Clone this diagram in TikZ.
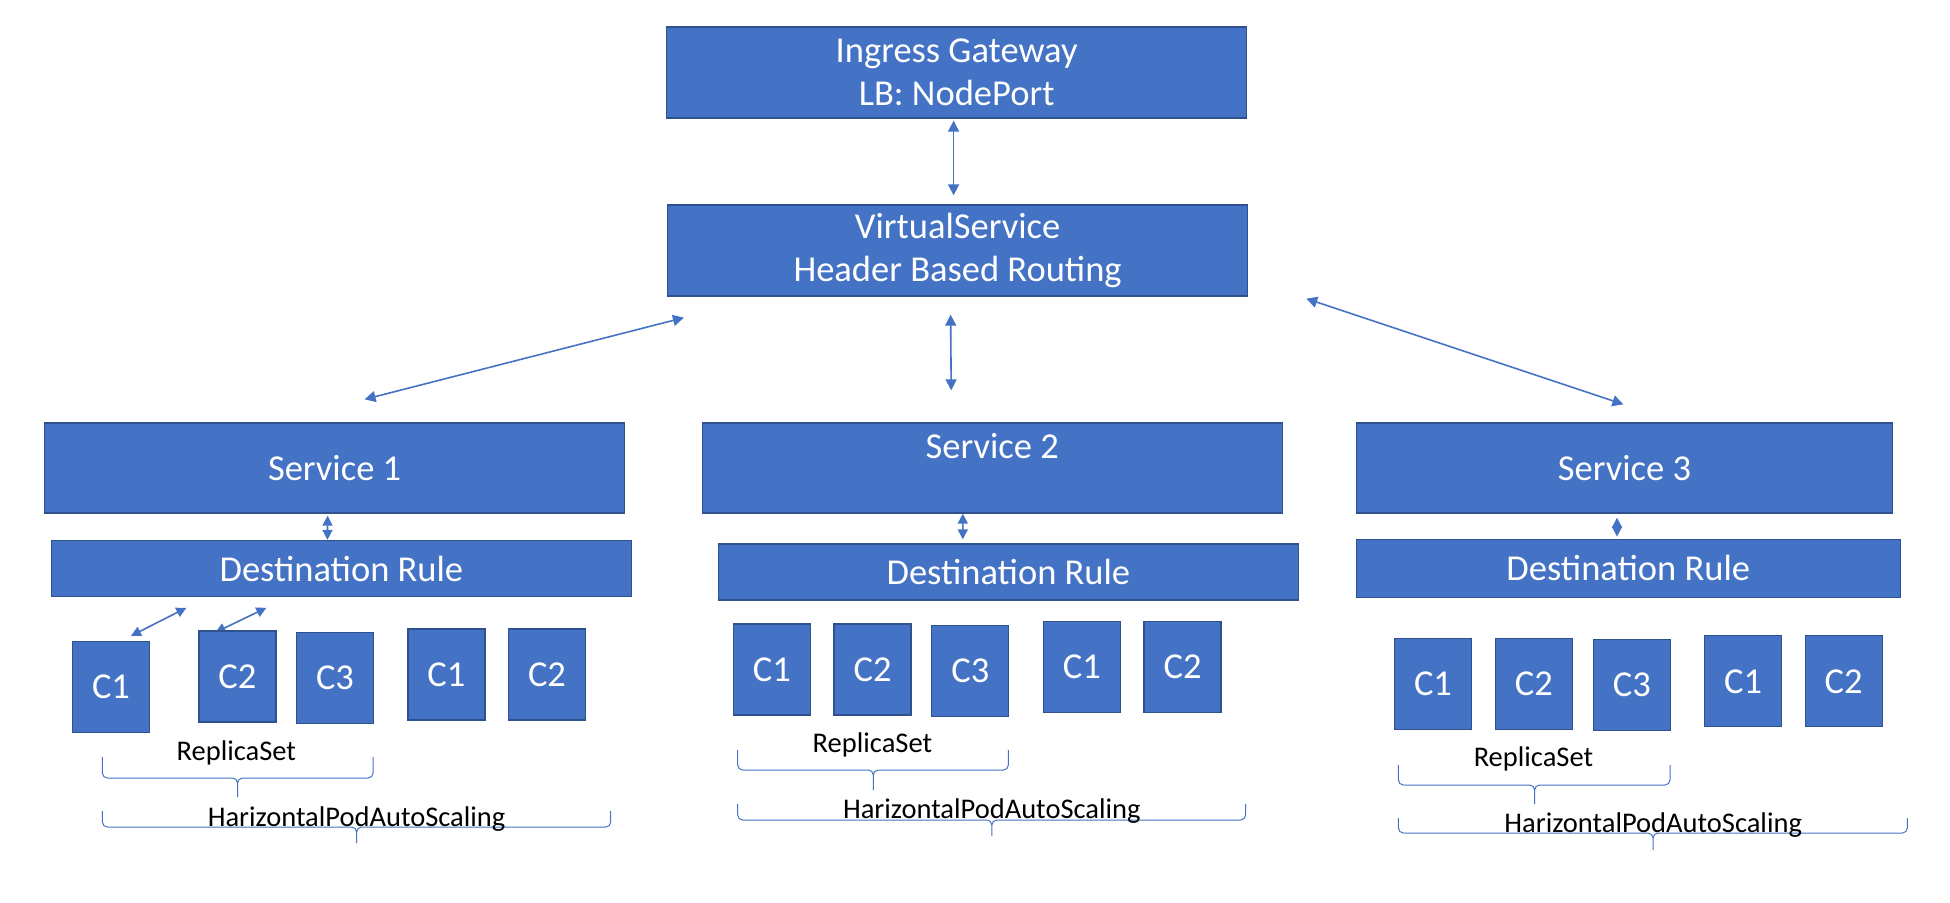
\documentclass[tikz,border=0pt]{standalone}
\usepackage{fontspec}
\setmainfont{Carlito}
\usepackage{tikz}
\usetikzlibrary{
    arrows.meta,
    backgrounds
}
\definecolor{boxblue}{HTML}{4472C4}
\definecolor{boxedge}{HTML}{2F528F}
\tikzset{
    box/.style={draw=boxedge, fill=boxblue, line width=1.3pt, text=white,
        align=center, inner sep=0pt, font=\fontsize{36.5}{43}\selectfont},
    wide/.style={box, minimum width=580pt, minimum height=91pt},
    rulebox/.style={box, minimum width=580pt, minimum height=56pt},
    pod/.style={box, minimum width=77pt, minimum height=91pt},
    link/.style={{Triangle[length=11pt,width=11pt]}-{Triangle[length=11pt,width=11pt]},
        draw=boxblue, line width=1.6pt},
    stub/.style={{Triangle[length=10pt,width=10pt]}-{Triangle[length=10pt,width=10pt]},
        draw=boxblue, line width=1.6pt},
    brace/.style={draw=boxblue, line width=1pt, rounded corners=5pt},
    note/.style={anchor=base, font=\fontsize{28.5}{34}\selectfont}
}

\begin{document}
\begin{tikzpicture}[x=1pt, y=-1pt]
    \useasboundingbox (0,0) rectangle (1950,902);
    % gateway and routing
    \node[wide] (ig) at (956.6,72.5) {Ingress Gateway\\LB: NodePort};
    \node[wide] (vs) at (957.6,250.5) {VirtualService\\Header Based Routing};
    % services
    \node[wide, minimum height=90pt] (s1) at (334.6,468) {Service 1};
    \node[wide, minimum height=90pt, text height=24pt, text depth=43.6pt] (s2) at (992.2,468) {Service 2};
    \node[wide, minimum width=536pt, minimum height=90pt] (s3) at (1624.4,468) {Service 3};
    \node[rulebox] (dr1) at (341.4,568.5) {Destination Rule};
    \node[rulebox] (dr2) at (1008.4,572) {Destination Rule};
    \node[rulebox, minimum width=544pt, minimum height=58pt] (dr3) at (1628.3,568.3) {Destination Rule};
    % pods of service 1
    \node[pod] (c11) at (111,687) {C1};
    \node[pod] (c12) at (237.4,676.5) {C2};
    \node[pod] (c13) at (335,678) {C3};
    \node[pod] (c14) at (446.4,674.5) {C1};
    \node[pod] (c15) at (547,674.5) {C2};
    % pods of service 2
    \node[pod] (c21) at (771.9,669.5) {C1};
    \node[pod] (c22) at (872.6,669.5) {C2};
    \node[pod] (c23) at (970.3,671) {C3};
    \node[pod] (c24) at (1081.8,667.2) {C1};
    \node[pod] (c25) at (1182.6,667.2) {C2};
    % pods of service 3
    \node[pod] (c31) at (1433,683.8) {C1};
    \node[pod] (c32) at (1533.8,683.8) {C2};
    \node[pod] (c33) at (1631.8,684.7) {C3};
    \node[pod] (c34) at (1743,681.3) {C1};
    \node[pod] (c35) at (1843.7,681.3) {C2};
    % connectors
    \draw[link] ([shift={(-3,2)}]ig.south) -- ([shift={(-4,-9)}]vs.north);
    \draw[link] ([shift={(17,21)}]vs.south west) -- ([shift={(30,-23)}]s1.north);
    \draw[link] ([shift={(-7,18)}]vs.south) -- ([shift={(-41,-32)}]s2.north);
    \draw[link] ([shift={(58,2)}]vs.south east) -- ([shift={(-1,-18)}]s3.north);
    \draw[stub] ([shift={(-7,2)}]s1.south) -- ([shift={(-14,0)}]dr1.north);
    \draw[stub] ([shift={(-29.4,0)}]s2.south) -- ([shift={(-45.6,-4)}]dr2.north);
    \draw[stub] ([shift={(-7.4,4)}]s3.south) -- ([shift={(-11.3,-2)}]dr3.north);
    \draw[stub] ([shift={(135.6,10.7)}]dr1.south west) -- ([shift={(20,-5)}]c11.north);
    \begin{scope}[on background layer]
        \draw[stub] ([shift={(215.6,10.7)}]dr1.south west) -- ([shift={(-22,2)}]c12.north);
    \end{scope}
    % replica sets and autoscaling
    \draw[brace] (102.4,757) |- (237.6,778) -- (237.6,797) (373.1,757) |- (237.6,778) -- (237.6,797);
    \draw[brace] (102.4,811) |- (356.6,827) -- (356.6,843) (610.7,811) |- (356.6,827) -- (356.6,843);
    \draw[brace] (737.7,750) |- (873.3,770) -- (873.3,790) (1008.4,750) |- (873.3,770) -- (873.3,790);
    \draw[brace] (737.7,804) |- (991.8,820) -- (991.8,836) (1245.6,804) |- (991.8,820) -- (991.8,836);
    \draw[brace] (1398.4,765) |- (1534.6,785) -- (1534.6,804) (1670,765) |- (1534.6,785) -- (1534.6,804);
    \draw[brace] (1398.4,818) |- (1653,833) -- (1653,850) (1907.3,818) |- (1653,833) -- (1653,850);
    \node[note] (rs1) at (236.3,760) {ReplicaSet};
    \node[note] (hpa1) at (356.6,826) {HarizontalPodAutoScaling};
    \node[note] (rs2) at (872.4,752.7) {ReplicaSet};
    \node[note] (hpa2) at (991.8,818.3) {HarizontalPodAutoScaling};
    \node[note] (rs3) at (1533.4,766.7) {ReplicaSet};
    \node[note] (hpa3) at (1653.2,832.7) {HarizontalPodAutoScaling};
\end{tikzpicture}
\end{document}
